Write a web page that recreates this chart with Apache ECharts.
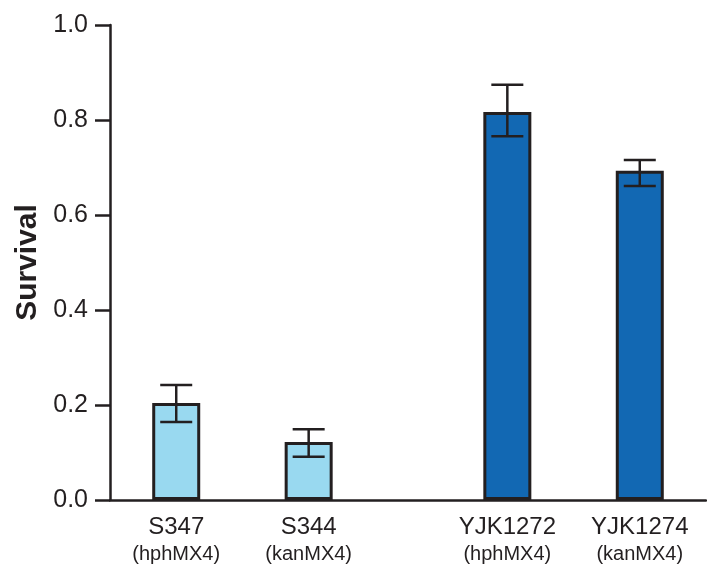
<!DOCTYPE html>
<html>
<head>
<meta charset="utf-8">
<script src="https://cdn.jsdelivr.net/npm/echarts@6/dist/echarts.min.js"></script>
<style>
html,body{margin:0;padding:0;background:#fff;}
#chart{width:707px;height:565px;}
</style>
</head>
<body>
<div id="chart"></div>
<script>
// Data
const strains = ['S347', 'S344', 'YJK1272', 'YJK1274'];
const markers = ['hphMX4', 'kanMX4', 'hphMX4', 'kanMX4'];
const survival = [0.204, 0.122, 0.817, 0.693];
const errLow = [0.164, 0.091, 0.766, 0.661];
const errHigh = [0.242, 0.149, 0.874, 0.716];
const barColors = ['#99d9f0', '#99d9f0', '#1268b3', '#1268b3'];
const axisSlots = ['', 'S347', '', 'S344', '', '', 'YJK1272', '', 'YJK1274', ''];
const yTicks = [0, 0.2, 0.4, 0.6, 0.8, 1.0];

const ink = '#231f20';
const font = '"Liberation Sans", Arial, sans-serif';

const chart = echarts.init(document.getElementById('chart'), null, {renderer: 'canvas'});

const barData = strains.map((s, i) => ({
  value: [s, survival[i]],
  itemStyle: {color: barColors[i]}
}));
const errData = strains.map((s, i) => [s, errLow[i], errHigh[i]]);

chart.setOption({
  animation: false,
  grid: {left: 110, right: 1, top: 25, bottom: 65, containLabel: false, outerBoundsMode: 'none'},
  xAxis: {
    type: 'category',
    data: axisSlots,
    boundaryGap: false,
    axisLine: {lineStyle: {color: ink, width: 2.5}},
    axisTick: {show: false},
    axisLabel: {
      interval: 0,
      margin: 14,
      fontFamily: font,
      color: ink,
      formatter: function (v) {
        const i = strains.indexOf(v);
        if (i < 0) return '';
        return '{a|' + v + '}\n{b|(' + markers[i] + ')}';
      },
      rich: {
        a: {fontSize: 24, lineHeight: 27, fontFamily: font, color: ink},
        b: {fontSize: 20, lineHeight: 26, fontFamily: font, color: ink}
      }
    },
    splitLine: {show: false}
  },
  yAxis: {
    type: 'value',
    min: 0,
    max: 1.0,
    interval: 0.2,
    name: 'Survival',
    nameLocation: 'middle',
    nameGap: 67,
    nameTextStyle: {fontSize: 30, fontWeight: 'bold', fontFamily: font, color: ink},
    axisLine: {show: true, lineStyle: {color: ink, width: 2.5}},
    axisTick: {show: true, inside: false, length: 15, lineStyle: {color: ink, width: 2.5}},
    axisLabel: {
      margin: 22,
      fontSize: 25,
      fontFamily: font,
      color: ink,
      formatter: v => yTicks.includes(Math.round(v * 10) / 10) ? v.toFixed(1) : ''
    },
    splitLine: {show: false}
  },
  series: [
    {
      type: 'bar',
      data: barData,
      barWidth: 48,
      itemStyle: {borderColor: ink, borderWidth: 3}
    },
    {
      type: 'custom',
      data: errData,
      z: 10,
      renderItem: function (params, api) {
        const x = api.value(0);
        const lo = api.coord([x, api.value(1)]);
        const hi = api.coord([x, api.value(2)]);
        const half = 16;
        const style = {stroke: ink, lineWidth: 2.5};
        return {
          type: 'group',
          children: [
            {type: 'line', shape: {x1: lo[0], y1: lo[1], x2: hi[0], y2: hi[1]}, style: style},
            {type: 'line', shape: {x1: lo[0] - half, y1: lo[1], x2: lo[0] + half, y2: lo[1]}, style: style},
            {type: 'line', shape: {x1: hi[0] - half, y1: hi[1], x2: hi[0] + half, y2: hi[1]}, style: style}
          ]
        };
      }
    }
  ]
});
</script>
</body>
</html>
